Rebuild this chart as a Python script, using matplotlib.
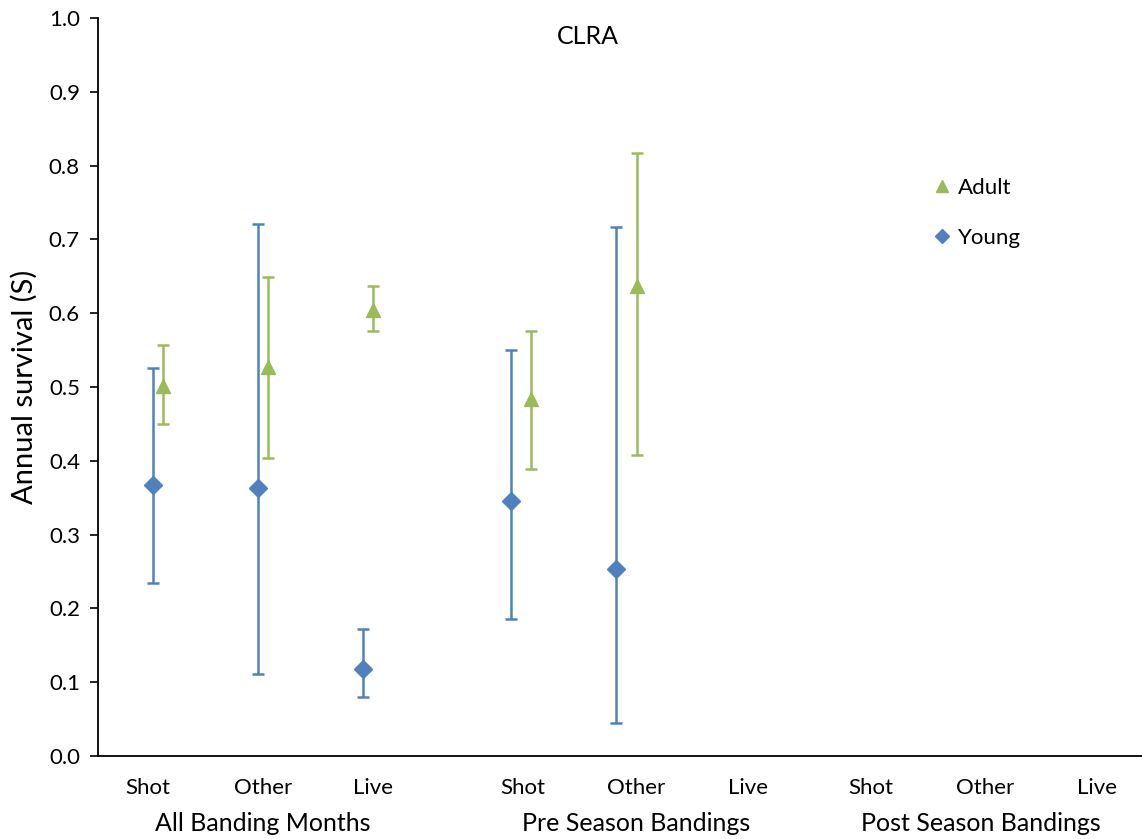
import matplotlib.pyplot as plt
from matplotlib.lines import Line2D
from matplotlib.ticker import FormatStrFormatter

plt.rcParams['font.family'] = ['Lato', 'DejaVu Sans']

# x positions (arbitrary axis units)
young_x = [0.55, 1.60, 2.65, 4.13, 5.18]
adult_x = [0.65, 1.70, 2.75, 4.33, 5.39]

# survival estimates with lower / upper confidence limits
young_s = [0.367, 0.363, 0.118, 0.346, 0.253]
young_lo = [0.234, 0.111, 0.080, 0.186, 0.045]
young_hi = [0.526, 0.721, 0.172, 0.550, 0.717]

adult_s = [0.501, 0.527, 0.604, 0.484, 0.637]
adult_lo = [0.450, 0.404, 0.576, 0.389, 0.408]
adult_hi = [0.557, 0.649, 0.637, 0.576, 0.817]

sub_labels = ['Shot', 'Other', 'Live'] * 3
sub_x = [0.50, 1.65, 2.75, 4.25, 5.38, 6.50, 7.73, 8.87, 9.99]
group_labels = ['All Banding Months', 'Pre Season Bandings', 'Post Season Bandings']
group_x = [1.65, 5.38, 8.83]

blue = '#4F81BD'
green = '#9BBB59'

fig = plt.figure(figsize=(11.42, 8.39), dpi=100)
ax = fig.add_axes([0.0858, 0.0989, 0.9142, 0.8796])

ax.errorbar(young_x, young_s,
            yerr=[[s - l for s, l in zip(young_s, young_lo)],
                  [h - s for s, h in zip(young_s, young_hi)]],
            fmt='D', color=blue, ms=9, elinewidth=1.8, capsize=4, capthick=1.8)
ax.errorbar(adult_x, adult_s,
            yerr=[[s - l for s, l in zip(adult_s, adult_lo)],
                  [h - s for s, h in zip(adult_s, adult_hi)]],
            fmt='^', color=green, ms=10, elinewidth=1.8, capsize=4, capthick=1.8)

ax.set_xlim(0, 10.44)
ax.set_ylim(0, 1.0)
ax.set_yticks([i / 10 for i in range(11)])
ax.yaxis.set_major_formatter(FormatStrFormatter('%.1f'))
ax.tick_params(axis='y', labelsize=16, length=6, width=1.2, direction='out', pad=7)
ax.set_xticks([])
for side in ['top', 'right']:
    ax.spines[side].set_visible(False)
for side in ['left', 'bottom']:
    ax.spines[side].set_linewidth(1.3)

ax.set_ylabel('Annual survival (S)', fontsize=21, labelpad=8)
ax.text(4.90, 0.975, 'CLRA', fontsize=18, ha='center', va='center')

trans = ax.get_xaxis_transform()
for lbl, x in zip(sub_labels, sub_x):
    ax.text(x, -0.043, lbl, transform=trans, fontsize=16, ha='center', va='center')
for lbl, x in zip(group_labels, group_x):
    ax.text(x, -0.092, lbl, transform=trans, fontsize=18, ha='center', va='center')

handles = [Line2D([], [], marker='^', color=green, ls='none', ms=9),
           Line2D([], [], marker='D', color=blue, ls='none', ms=7)]
ax.legend(handles, ['Adult', 'Young'], loc='upper left', bbox_to_anchor=(0.80, 0.783),
          frameon=False, fontsize=16, handlelength=0.8, handletextpad=0.3,
          labelspacing=1.33, borderpad=0, borderaxespad=0)

fig.savefig('out.png', dpi=100)
